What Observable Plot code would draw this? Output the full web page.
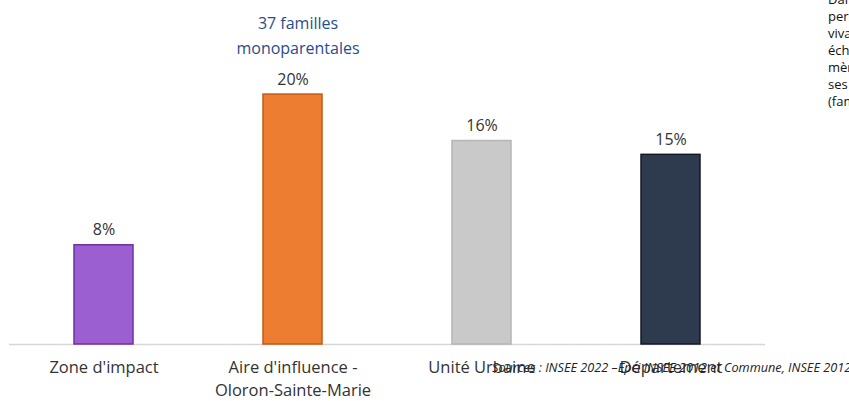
<!DOCTYPE html>
<html>
<head>
<meta charset="utf-8">
<script src="https://cdn.jsdelivr.net/npm/d3@7"></script>
<script src="https://cdn.jsdelivr.net/npm/@observablehq/plot@0.6"></script>
<style>
  html, body { margin: 0; padding: 0; background: #fff; }
  #wrap { position: relative; width: 849px; height: 401px; overflow: hidden; font-family: "Open Sans", sans-serif; }
  #side { position: absolute; left: 828px; top: -9px; font-size: 13px; line-height: 17px; color: #111; white-space: nowrap; }
  #source { position: absolute; left: 492px; top: 358px; font-size: 12.7px; font-style: italic; color: #222; white-space: nowrap; }
</style>
</head>
<body>
<div id="wrap">
  <div id="chart"></div>
  <div id="side">Dans cette étude<br>personnes<br>vivant<br>échelle<br>mère<br>ses<br>(famille</div>
  <div id="source">Sources : INSEE 2022 –Epci INSEE 2012 et Commune, INSEE 2012</div>
</div>
<script>
const categories = ["Zone d'impact", "Aire d'influence -\nOloron-Sainte-Marie", "Unité Urbaine", "Département"];
const values = [0.079, 0.199, 0.162, 0.151];
const fills = ["#9b5fd1", "#ed7d31", "#c9c9c9", "#2e3a4e"];
const strokes = ["#7030a0", "#c55a11", "#b5b5b5", "#141a24"];
const annotationCategory = "Aire d'influence -\nOloron-Sainte-Marie";
const annotationText = "37 familles\nmonoparentales";

const data = categories.map((c, i) => ({cat: c, value: values[i]}));
const fmt = d3.format(".0%");

const chart = Plot.plot({
  width: 849,
  height: 401,
  marginLeft: 9,
  marginRight: 84,
  marginTop: 30,
  marginBottom: 57,
  style: {fontFamily: "Open Sans, sans-serif", background: "#fff"},
  x: {domain: categories, paddingInner: 0.69, paddingOuter: 0.345, label: null},
  y: {domain: [0, 0.25], axis: null},
  marks: [
    Plot.ruleY([0], {stroke: "#d6d6d6", strokeWidth: 1.5}),
    ...data.map((d, i) => Plot.barY([d], {x: "cat", y: "value", fill: fills[i], stroke: strokes[i], strokeWidth: 1.5})),
    Plot.text(data, {x: "cat", y: "value", text: d => fmt(d.value), dy: -15, fontSize: 16, fill: "#333"}),
    Plot.text(data.filter(d => d.cat === annotationCategory), {x: "cat", y: "value", text: () => annotationText, dy: -61, dx: 5, lineHeight: 1.55, fontSize: 16, fill: "#1f4e8c"}),
    Plot.axisX({tickSize: 0, tickPadding: 13, fontSize: 16.5, lineAnchor: "top", lineHeight: 1.35, fill: "#333", label: null})
  ]
});
document.getElementById("chart").appendChild(chart);
</script>
</body>
</html>
